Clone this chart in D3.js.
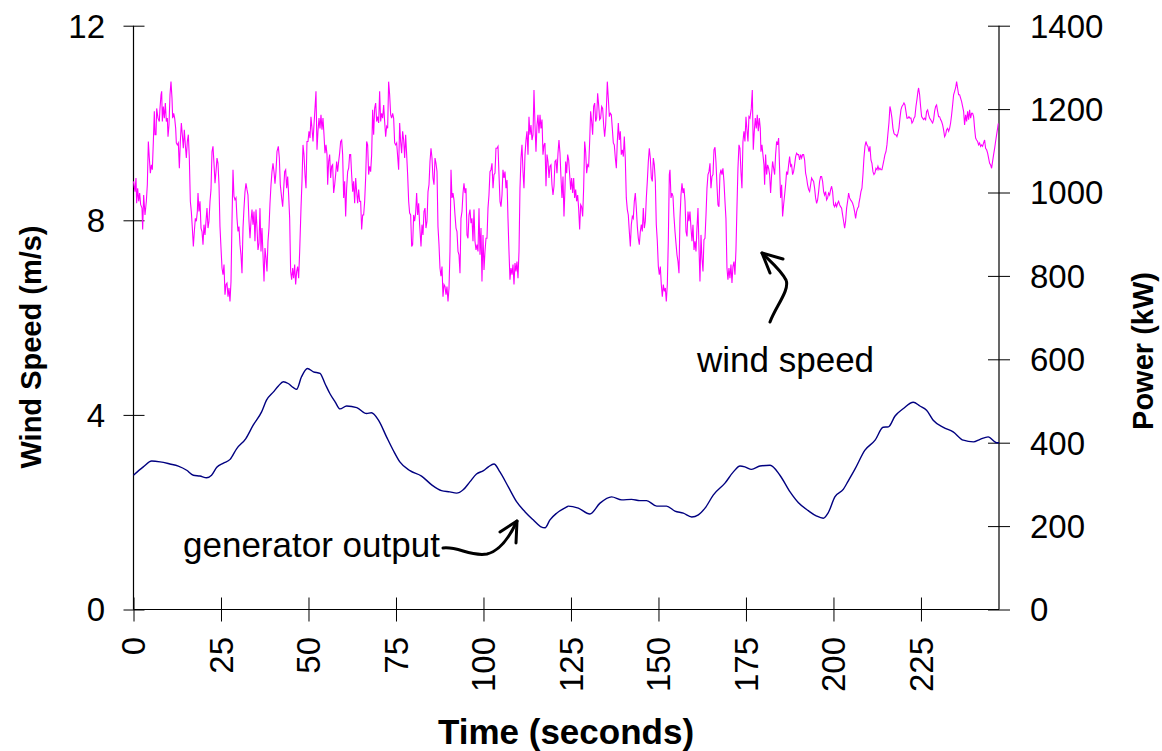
<!DOCTYPE html>
<html>
<head>
<meta charset="utf-8">
<script src="https://cdn.jsdelivr.net/npm/d3@7"></script>
<style>
  body { margin: 0; background: #fff; }
  text { font-family: Arial, "Liberation Sans", sans-serif; fill: #000; }
</style>
</head>
<body>
<div id="chart"></div>
<script>
// time (s), wind speed (m/s)
var windSeries = [
  [0,8.80],[0.43,8.59],[0.71,8.87],[0.90,8.35],[1.19,8.66],[1.48,8.39],[1.76,8.56],[2.05,8.32],[2.43,8.25],[2.62,7.81],
  [2.90,8.52],[3.29,8.11],[3.67,8.39],[3.95,8.73],[4.24,9.62],[4.52,9.28],[4.81,8.97],[5.10,9.14],[5.38,9.04],[5.67,9.62],
  [5.95,10.24],[6.14,9.76],[6.43,9.76],[6.62,10.30],[7.00,10.10],[7.38,10.03],[7.57,10.30],[7.86,10.58],[8.05,10.65],[8.24,10.03],
  [8.52,10.34],[8.81,10.10],[9.10,10.41],[9.38,10.03],[9.67,10.10],[9.86,9.72],[10.14,9.96],[10.43,10.58],[10.71,10.85],[11.00,10.51],
  [11.19,10.10],[11.48,10.20],[11.76,10.10],[12.05,9.89],[12.24,9.59],[12.52,9.55],[12.81,9.59],[13.10,9.07],[13.38,9.62],[13.67,10.00],
  [13.95,9.76],[14.24,9.48],[14.52,9.86],[14.81,9.55],[15.10,9.28],[15.38,9.62],[15.67,9.76],[15.95,9.28],[16.24,8.39],[16.52,8.18],
  [16.81,7.84],[17.10,7.46],[17.38,7.77],[17.67,8.04],[17.95,7.98],[18.24,8.18],[18.43,8.56],[18.71,8.18],[19.00,8.39],[19.29,7.84],
  [19.57,7.77],[19.86,7.50],[20.14,7.91],[20.43,7.70],[20.71,7.98],[21.00,8.25],[21.29,7.84],[21.57,7.98],[21.86,8.39],[22.14,8.63],
  [22.43,9.41],[22.71,9.52],[23.00,9.17],[23.29,8.76],[23.57,9.00],[23.86,9.28],[24.14,9.17],[24.43,8.73],[24.71,7.87],[25.00,7.43],
  [25.29,7.02],[25.57,6.88],[25.86,7.09],[26.14,6.47],[26.43,6.68],[26.71,6.71],[27.00,6.43],[27.29,6.61],[27.57,6.33],[27.86,6.74],
  [28.14,7.98],[28.43,9.04],[28.71,8.49],[29.00,8.42],[29.29,8.46],[29.57,8.04],[29.86,7.77],[30.14,7.87],[30.43,7.50],[30.71,7.29],
  [31.00,6.91],[31.29,7.84],[31.57,8.25],[31.86,8.59],[32.14,8.76],[32.43,8.63],[32.71,8.52],[33.00,7.98],[33.29,7.63],[33.57,7.98],
  [33.86,8.22],[34.14,7.91],[34.43,8.18],[34.71,7.57],[35.00,8.22],[35.29,7.84],[35.57,7.39],[35.86,7.53],[36.14,8.25],[36.43,7.36],
  [36.71,7.84],[37.00,7.29],[37.29,6.74],[37.57,7.43],[37.86,7.22],[38.14,6.95],[38.43,7.57],[38.71,7.84],[39.00,8.35],[39.29,8.73],
  [39.57,9.00],[39.86,9.17],[40.14,9.00],[40.43,8.75],[40.71,9.00],[41.00,9.41],[41.38,9.52],[41.67,9.28],[41.95,8.73],[42.33,8.46],
  [42.62,8.28],[42.90,8.63],[43.19,9.00],[43.48,9.04],[43.76,8.66],[44.05,8.90],[44.33,8.52],[44.62,8.04],[44.90,6.95],[45.19,6.78],
  [45.48,7.02],[45.76,6.81],[46.05,7.09],[46.33,6.68],[46.62,6.95],[46.90,7.05],[47.19,6.81],[47.48,7.36],[47.86,8.25],[48.14,8.80],
  [48.43,9.55],[48.71,9.35],[49.00,8.94],[49.29,8.66],[49.57,9.62],[49.86,9.62],[50.14,9.83],[50.43,9.69],[50.71,10.13],[51.00,9.89],
  [51.29,9.62],[51.57,9.96],[51.86,10.30],[52.14,10.65],[52.43,9.45],[52.71,9.83],[53.00,10.10],[53.29,9.89],[53.57,10.17],[53.86,9.86],
  [54.14,10.10],[54.43,9.76],[54.71,9.38],[55.00,9.55],[55.29,9.35],[55.48,8.73],[55.76,9.21],[56.05,9.35],[56.33,8.87],[56.62,9.11],
  [56.90,9.14],[57.19,8.56],[57.48,8.73],[57.76,8.94],[58.05,9.21],[58.33,9.00],[58.62,9.21],[58.90,9.38],[59.19,9.62],[59.48,9.65],
  [59.76,9.35],[60.05,8.46],[60.33,8.80],[60.62,8.08],[60.90,8.66],[61.19,9.00],[61.48,9.07],[61.76,9.35],[62.05,9.35],[62.33,8.94],
  [62.62,8.59],[62.90,8.80],[63.19,8.35],[63.48,8.87],[63.76,8.59],[64.05,8.35],[64.33,8.63],[64.62,8.39],[64.90,8.39],[65.19,7.81],
  [65.48,8.11],[65.76,8.11],[66.05,8.39],[66.33,8.87],[66.62,9.62],[66.90,9.55],[67.19,8.94],[67.48,9.11],[67.76,9.00],[68.05,9.35],
  [68.33,10.27],[68.62,9.76],[68.90,10.30],[69.19,10.41],[69.48,10.03],[69.76,10.13],[70.05,10.00],[70.33,10.65],[70.62,10.03],[70.90,10.20],
  [71.19,10.10],[71.48,10.37],[71.76,10.03],[72.05,9.72],[72.33,9.93],[72.62,9.89],[72.90,10.85],[73.19,10.58],[73.48,10.17],[73.76,10.10],
  [74.05,10.20],[74.33,10.10],[74.62,9.59],[74.90,9.55],[75.19,9.59],[75.48,9.31],[75.76,9.04],[76.05,10.00],[76.33,9.62],[76.62,9.38],
  [76.90,9.83],[77.19,9.65],[77.48,9.28],[77.76,9.76],[78.05,9.35],[78.33,8.94],[78.62,8.39],[78.90,8.15],[79.19,8.11],[79.48,7.46],
  [79.76,7.50],[80.05,8.11],[80.33,7.98],[80.62,8.15],[80.90,8.56],[81.19,8.11],[81.48,8.35],[81.76,7.91],[82.15,7.46],[82.43,7.91],
  [82.72,7.70],[83.00,8.18],[83.29,8.25],[83.57,7.84],[83.86,7.98],[84.15,8.59],[84.43,8.73],[84.72,9.21],[85.00,9.48],[85.29,9.28],
  [85.57,8.87],[85.86,8.73],[86.15,9.28],[86.43,9.17],[86.72,9.00],[87.00,7.87],[87.29,7.50],[87.57,7.02],[87.86,6.85],[88.15,7.05],
  [88.43,6.43],[88.72,6.68],[89.00,6.64],[89.29,6.47],[89.57,6.64],[89.86,6.33],[90.15,6.61],[90.43,7.36],[90.72,9.04],[91.00,8.46],
  [91.29,8.56],[91.57,8.42],[91.86,8.11],[92.15,7.84],[92.43,7.77],[92.72,7.36],[93.00,7.29],[93.29,6.91],[93.57,8.04],[93.86,8.18],
  [94.15,8.56],[94.43,8.76],[94.72,8.56],[95.00,8.66],[95.29,7.70],[95.57,7.63],[95.86,8.11],[96.15,8.22],[96.43,7.94],[96.72,8.04],
  [97.00,7.57],[97.29,8.22],[97.57,7.57],[97.86,7.39],[98.15,7.50],[98.43,7.36],[98.72,8.25],[99.00,7.29],[99.29,7.84],[99.57,6.74],
  [99.86,7.70],[100.15,6.98],[100.43,7.36],[100.72,7.63],[101.00,7.63],[101.29,8.25],[101.57,8.52],[101.86,9.00],[102.15,9.04],[102.43,9.17],
  [102.72,8.66],[103.00,8.94],[103.29,8.97],[103.57,9.48],[103.86,9.48],[104.15,9.52],[104.43,8.94],[104.72,8.39],[105.00,8.28],[105.29,8.52],
  [105.57,9.04],[105.86,8.87],[106.15,9.00],[106.43,8.66],[106.72,8.83],[107.00,8.04],[107.29,7.36],[107.57,6.78],[107.86,7.02],[108.15,6.88],
  [108.43,7.09],[108.72,6.68],[109.00,7.12],[109.29,6.95],[109.57,7.15],[109.86,6.81],[110.15,7.36],[110.43,8.66],[110.72,9.28],[111.00,9.55],
  [111.29,9.00],[111.57,8.66],[111.86,9.35],[112.15,9.65],[112.43,9.83],[112.72,9.35],[113.00,10.13],[113.29,9.76],[113.57,9.96],[113.86,9.65],
  [114.15,9.76],[114.43,10.68],[114.72,9.96],[115.00,9.41],[115.29,9.96],[115.57,10.17],[115.86,9.79],[116.15,10.17],[116.43,9.89],[116.72,10.07],
  [117.00,9.35],[117.29,9.55],[117.57,9.59],[117.86,8.70],[118.15,9.35],[118.43,9.21],[118.72,8.87],[119.00,9.11],[119.29,9.14],[119.57,8.73],
  [119.86,8.52],[120.15,8.70],[120.43,9.21],[120.72,9.24],[121.00,8.97],[121.29,9.38],[121.57,9.65],[121.86,9.38],[122.15,8.87],[122.43,8.46],
  [122.72,8.90],[123.00,8.08],[123.29,8.66],[123.48,9.21],[123.77,8.97],[124.05,9.35],[124.34,9.24],[124.62,8.94],[124.91,8.63],[125.19,8.87],
  [125.48,8.56],[125.77,8.87],[126.05,8.46],[126.34,8.63],[126.62,8.39],[126.91,8.52],[127.19,8.25],[127.48,7.81],[127.77,8.32],[128.05,8.28],
  [128.34,8.08],[128.62,8.66],[128.91,9.62],[129.19,9.41],[129.48,8.97],[129.77,9.14],[130.05,9.11],[130.34,9.62],[130.62,10.24],[130.91,10.03],
  [131.19,9.76],[131.48,10.34],[131.77,10.41],[132.05,10.03],[132.34,10.10],[132.62,10.61],[132.91,10.37],[133.19,10.07],[133.48,10.10],[133.77,10.34],
  [134.05,10.30],[134.34,9.96],[134.62,9.72],[134.91,9.96],[135.19,10.44],[135.38,10.85],[135.67,10.51],[135.96,10.13],[136.24,10.20],[136.53,10.17],
  [136.81,9.89],[137.10,9.59],[137.38,9.55],[137.67,9.28],[137.96,9.07],[138.24,9.62],[138.53,10.00],[138.81,9.65],[139.10,9.83],[139.38,9.35],
  [139.67,9.45],[139.96,9.31],[140.24,9.72],[140.53,9.24],[140.81,8.46],[141.10,8.22],[141.38,8.11],[141.67,7.77],[141.96,7.46],[142.24,7.91],
  [142.53,8.08],[142.81,8.04],[143.10,8.39],[143.38,8.56],[143.67,8.25],[143.96,7.87],[144.24,7.63],[144.53,7.50],[144.81,7.77],[145.10,7.91],
  [145.38,7.77],[145.67,8.25],[145.96,7.84],[146.24,7.98],[146.53,8.46],[146.81,8.80],[147.10,9.21],[147.38,9.48],[147.67,9.28],[147.96,8.87],
  [148.24,8.80],[148.53,9.28],[148.81,9.14],[149.10,8.80],[149.38,7.91],[149.67,7.57],[149.96,7.05],[150.24,6.88],[150.53,7.05],[150.81,6.68],
  [151.10,6.43],[151.38,6.68],[151.67,6.54],[151.96,6.61],[152.24,6.33],[152.53,6.68],[152.81,7.57],[153.10,8.94],[153.29,9.04],[153.58,8.46],
  [153.86,8.56],[154.15,8.49],[154.43,8.08],[154.72,7.77],[155.00,7.53],[155.29,7.29],[155.58,7.15],[155.86,6.91],[156.15,8.04],[156.43,8.52],
  [156.72,8.76],[157.00,8.56],[157.29,8.66],[157.58,8.39],[157.86,7.77],[158.15,7.67],[158.43,8.18],[158.72,7.98],[159.00,8.18],[159.29,7.84],
  [159.58,7.57],[159.86,7.91],[160.15,7.39],[160.43,7.57],[160.72,7.36],[161.00,7.84],[161.29,8.25],[161.58,7.43],[161.86,6.74],[162.15,7.70],
  [162.43,7.22],[162.72,6.95],[163.00,7.60],[163.29,7.63],[163.58,8.11],[163.86,8.66],[164.15,8.94],[164.43,9.00],[164.72,9.17],[165.00,8.66],
  [165.29,8.90],[165.58,8.94],[165.86,9.45],[166.15,9.50],[166.42,9.21],[166.71,8.73],[167.00,8.32],[167.28,8.28],[167.57,8.94],[167.85,9.04],
  [168.14,8.94],[168.42,9.07],[168.71,8.80],[169.00,8.39],[169.28,8.04],[169.57,7.02],[169.85,6.78],[170.14,7.02],[170.42,6.81],[170.71,7.09],
  [171.00,6.71],[171.28,7.05],[171.57,7.15],[171.85,6.88],[172.14,7.39],[172.42,8.25],[172.71,9.07],[173.00,9.55],[173.28,9.48],[173.57,9.00],
  [173.85,8.66],[174.14,9.62],[174.42,9.83],[174.71,9.62],[175.00,10.13],[175.28,9.86],[175.57,9.62],[175.85,10.13],[176.14,10.10],[176.52,10.30],
  [176.81,10.68],[177.09,9.45],[177.38,9.83],[177.66,10.10],[177.95,9.89],[178.23,10.17],[178.52,9.83],[178.81,10.10],[179.09,9.89],[179.28,9.41],
  [179.57,9.55],[179.85,9.35],[180.14,9.14],[180.33,8.73],[180.61,9.35],[180.90,8.94],[181.19,9.14],[181.47,9.07],[181.76,8.94],[182.04,8.56],
  [182.33,8.94],[182.61,9.21],[182.90,9.07],[183.19,8.94],[183.47,9.35],[183.76,9.62],[184.04,9.55],[184.33,9.69],[184.61,9.07],[184.90,8.46],
  [185.19,8.73],[185.47,8.08],[185.76,8.32],[186.04,8.52],[186.33,8.73],[186.61,9.00],[186.90,8.94],[187.19,9.14],[187.47,9.31],[187.76,9.11],
  [188.04,9.14],[188.33,8.94],[188.61,9.00],[188.90,9.14],[189.19,9.31],[189.47,9.38],[189.76,9.35],[190.04,9.35],[190.33,9.24],[190.61,9.35],
  [190.90,9.28],[191.19,9.35],[191.47,9.35],[191.76,9.24],[192.04,8.97],[192.33,8.87],[192.61,8.73],[192.90,8.63],[193.19,8.59],[193.47,8.73],
  [193.76,8.87],[194.04,8.83],[194.33,8.80],[194.61,8.66],[194.90,8.46],[195.19,8.35],[195.47,8.42],[195.76,8.59],[196.04,8.80],[196.33,8.90],
  [196.61,8.90],[196.90,8.80],[197.19,8.59],[197.47,8.52],[197.76,8.59],[198.04,8.42],[198.33,8.46],[198.61,8.56],[198.90,8.52],[199.19,8.63],
  [199.47,8.70],[199.76,8.59],[200.04,8.32],[200.33,8.28],[200.61,8.35],[200.90,8.28],[201.19,8.35],[201.47,8.39],[201.76,8.32],[202.04,8.28],
  [202.33,8.25],[202.61,8.11],[202.90,7.98],[203.19,7.84],[203.47,7.98],[203.76,8.25],[204.04,8.39],[204.33,8.56],[204.61,8.46],[204.90,8.42],
  [205.19,8.39],[205.47,8.35],[205.76,8.28],[206.04,8.18],[206.33,8.04],[206.61,8.18],[206.90,8.25],[207.19,8.28],[207.28,8.35],[207.57,8.46],
  [207.85,8.59],[208.14,8.66],[208.43,8.94],[208.71,9.28],[209.00,9.52],[209.28,9.62],[209.57,9.55],[209.85,9.52],[210.14,9.41],[210.43,9.52],
  [210.71,9.24],[211.00,9.17],[211.28,9.00],[211.57,8.94],[211.85,8.97],[212.14,9.07],[212.43,9.04],[212.71,9.11],[213.00,9.04],[213.28,9.07],
  [213.57,9.04],[213.85,9.04],[214.14,9.14],[214.43,9.24],[214.71,9.35],[215.00,9.41],[215.28,9.55],[215.57,9.79],[215.85,10.00],[216.14,10.34],
  [216.43,10.24],[216.71,10.10],[217.00,9.89],[217.28,9.79],[217.57,9.76],[217.85,9.76],[218.14,9.72],[218.43,9.79],[218.71,9.89],[219.00,10.10],
  [219.28,10.27],[219.57,10.34],[219.85,10.37],[220.14,10.41],[220.43,10.37],[220.71,10.24],[221.00,10.10],[221.28,10.10],[221.57,10.13],[221.85,10.10],
  [222.14,10.10],[222.43,10.00],[222.71,10.03],[223.00,10.10],[223.28,10.13],[223.57,10.34],[223.85,10.48],[224.14,10.65],[224.33,10.72],[224.62,10.58],
  [224.90,10.34],[225.19,10.13],[225.47,10.10],[225.76,10.07],[226.05,10.10],[226.33,10.07],[226.62,10.24],[226.90,10.27],[227.19,10.17],[227.47,10.10],
  [227.76,10.07],[228.05,10.03],[228.33,10.00],[228.62,10.07],[228.90,10.24],[229.19,10.34],[229.47,10.37],[229.76,10.24],[230.05,10.13],[230.33,10.13],
  [230.62,10.07],[230.90,10.03],[231.19,9.96],[231.47,9.86],[231.76,9.72],[232.05,9.76],[232.33,9.86],[232.62,9.89],[232.90,9.83],[233.19,9.89],
  [233.47,10.00],[233.76,10.17],[234.05,10.37],[234.33,10.58],[234.62,10.65],[234.90,10.72],[235.19,10.85],[235.47,10.72],[235.76,10.58],[236.05,10.58],
  [236.33,10.51],[236.62,10.44],[236.90,10.34],[237.19,10.24],[237.47,9.96],[237.76,10.17],[238.05,10.03],[238.33,10.24],[238.62,10.07],[238.90,10.27],
  [239.19,10.10],[239.47,10.20],[239.76,10.20],[240.05,10.13],[240.33,9.89],[240.62,9.69],[240.90,9.65],[241.19,9.62],[241.47,9.55],[241.76,9.59],
  [242.05,9.52],[242.33,9.55],[242.62,9.52],[242.90,9.59],[243.19,9.65],[243.47,9.48],[243.76,9.45],[244.05,9.38],[244.33,9.28],[244.62,9.17],
  [244.90,9.14],[245.19,9.07],[245.47,9.21],[245.76,9.35],[246.05,9.48],[246.33,9.62],[246.62,9.76],[246.90,9.89],[247.09,9.99]
];

// time (s), generator output (kW)
var powerSeries = [
  [0,322],[2.8,342],[5.2,356],[7.6,354],[10.4,349],[12.8,344],[15.2,334],[17.1,322],[19.0,320],[20.9,316],
  [22.3,322],[23.8,341],[25.7,351],[27.6,360],[29.5,386],[32.1,410],[34.2,442],[36.6,474],[38.0,502],[40.0,522],
  [41.4,536],[42.8,546],[44.2,542],[45.7,532],[46.6,528],[48.0,558],[49.7,578],[51.4,570],[53.3,566],[54.7,542],
  [56.1,518],[57.6,498],[59.0,481],[60.9,488],[63.8,484],[66.6,470],[68.0,472],[70.0,454],[72.3,414],[74.2,382],
  [76.1,354],[79.0,333],[82.3,320],[85.2,299],[88.0,285],[90.4,282],[92.3,279],[94.2,287],[96.1,306],[98.0,325],
  [100.0,333],[101.4,342],[103.0,349],[104.7,330],[107.1,294],[109.5,258],[111.9,234],[114.2,215],[116.3,199],[117.6,196],
  [119.0,215],[120.9,231],[123.8,246],[124.2,248],[127.1,243],[130.4,229],[133.3,255],[136.6,270],[139.5,263],[142.3,264],
  [144.7,261],[146.6,261],[149.5,248],[152.3,248],[154.7,236],[157.1,231],[159.5,222],[161.4,227],[163.3,243],[165.7,275],
  [169.0,303],[171.4,330],[173.3,344],[174.7,342],[176.6,336],[179.0,344],[181.9,346],[184.7,322],[187.6,282],[190.0,256],
  [192.8,237],[195.2,224],[197.1,219],[198.5,232],[200.4,270],[202.8,288],[204.2,308],[206.1,336],[209.0,382],[211.9,406],
  [214.2,437],[215.7,438],[217.6,464],[220.0,482],[222.8,497],[224.7,488],[226.6,478],[228.5,454],[231.4,437],[234.2,426],
  [237.1,406],[240.0,402],[241.9,408],[244.2,414],[246.6,400],[247.3,400]
];

var timeTicks = [0, 25, 50, 75, 100, 125, 150, 175, 200, 225];
var speedTicks = [0, 4, 8, 12];
var powerTicks = [0, 200, 400, 600, 800, 1000, 1200, 1400];

var w_width = 1162, w_height = 751;
var plotLeft = 133.5, plotRight = 999, plotTop = 25.7, plotBottom = 609.5;

var svg = d3.select('#chart').append('svg')
  .attr('width', w_width)
  .attr('height', w_height);

var x = d3.scaleLinear().domain([0, 247.3]).range([plotLeft, plotRight]);
var ySpeed = d3.scaleLinear().domain([0, 12]).range([plotBottom, plotTop]);
var yPower = d3.scaleLinear().domain([0, 1400]).range([plotBottom, plotTop]);

// axes - ticks cross the axis line like the excel original
var xAxis = svg.append('g').attr('transform', 'translate(0,' + plotBottom + ')')
  .call(d3.axisBottom(x).tickValues(timeTicks).tickSize(12).tickFormat(''));
xAxis.selectAll('.tick line').attr('y1', -12);

var lAxis = svg.append('g').attr('transform', 'translate(' + plotLeft + ',0)')
  .call(d3.axisLeft(ySpeed).tickValues(speedTicks).tickSize(10).tickFormat(''));
lAxis.selectAll('.tick line').attr('x1', 11);

var rAxis = svg.append('g').attr('transform', 'translate(' + plotRight + ',0)')
  .call(d3.axisRight(yPower).tickValues(powerTicks).tickSize(11).tickFormat(''));
rAxis.selectAll('.tick line').attr('x1', -11);

svg.selectAll('.domain').attr('stroke', '#000').attr('stroke-width', 1.2);
svg.selectAll('.tick line').attr('stroke', '#000');
// excel draws no caps on the axis ends
xAxis.select('.domain').attr('d', 'M' + plotLeft + ',0H' + plotRight);
lAxis.select('.domain').attr('d', 'M0,' + plotTop + 'V' + plotBottom);
rAxis.select('.domain').attr('d', 'M0,' + plotTop + 'V' + plotBottom);

// tick labels
svg.append('g').selectAll('text').data(speedTicks).enter().append('text')
  .attr('x', 105).attr('y', function(d) { return ySpeed(d); })
  .attr('dy', '0.36em').attr('text-anchor', 'end')
  .style('font-size', '33px').text(function(d) { return d; });

svg.append('g').selectAll('text').data(powerTicks).enter().append('text')
  .attr('x', 1030).attr('y', function(d) { return yPower(d); })
  .attr('dy', '0.36em').attr('text-anchor', 'start')
  .style('font-size', '33px').text(function(d) { return d; });

svg.append('g').selectAll('text').data(timeTicks).enter().append('text')
  .attr('transform', function(d) { return 'translate(' + x(d) + ',637) rotate(-90)'; })
  .attr('dy', '0.36em').attr('text-anchor', 'end')
  .style('font-size', '33px').text(function(d) { return d; });

// axis titles
svg.append('text').attr('transform', 'translate(31,347) rotate(-90)')
  .attr('dy', '0.36em').attr('text-anchor', 'middle')
  .style('font-size', '29px').style('font-weight', 'bold').text('Wind Speed (m/s)');
svg.append('text').attr('transform', 'translate(1143,351) rotate(-90)')
  .attr('dy', '0.36em').attr('text-anchor', 'middle')
  .style('font-size', '29px').style('font-weight', 'bold').text('Power (kW)');
svg.append('text').attr('x', 566).attr('y', 744).attr('text-anchor', 'middle')
  .style('font-size', '35px').style('font-weight', 'bold').text('Time (seconds)');

// series
var windLine = d3.line().x(function(d) { return x(d[0]); }).y(function(d) { return ySpeed(d[1]); });
var powerLine = d3.line().x(function(d) { return x(d[0]); }).y(function(d) { return yPower(d[1]); })
  .curve(d3.curveMonotoneX);

svg.append('path').datum(windSeries).attr('d', windLine)
  .attr('fill', 'none').attr('stroke', '#ff00ff').attr('stroke-width', 1.1);
svg.append('path').datum(powerSeries).attr('d', powerLine)
  .attr('fill', 'none').attr('stroke', '#000080').attr('stroke-width', 1.4);

// annotations
svg.append('text').attr('x', 697).attr('y', 372).style('font-size', '35px').text('wind speed');
svg.append('text').attr('x', 183).attr('y', 557).style('font-size', '35px').text('generator output');

var arrows = svg.append('g').attr('fill', 'none').attr('stroke', '#000')
  .attr('stroke-width', 3).attr('stroke-linecap', 'round').attr('stroke-linejoin', 'round');
arrows.append('path').attr('d', 'M770,322 C776,306 790,290 786,280 C781,270 770,261 762,253');
arrows.append('path').attr('d', 'M783,259 L762,253 L770,273');
arrows.append('path').attr('d', 'M443,548 C458,546 470,557 487,554 C500,551 510,536 517,521');
arrows.append('path').attr('d', 'M500,532 L517,521 L516,543');
</script>
</body>
</html>
